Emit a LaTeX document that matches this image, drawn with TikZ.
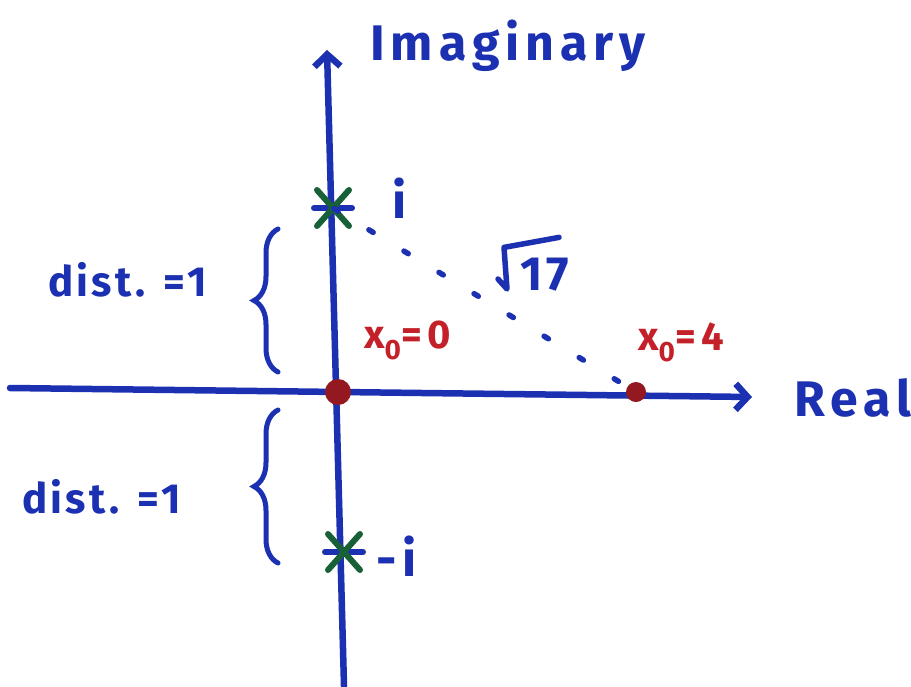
\documentclass[tikz,border=0pt]{standalone}
\usepackage{fontspec}
\setmainfont{Fira Sans}
\usetikzlibrary{arrows.meta,positioning,decorations.pathreplacing}
\definecolor{penblue}{RGB}{28,48,178}
\definecolor{penred}{RGB}{196,32,42}
\definecolor{pengreen}{RGB}{24,96,56}

%% asterisk mark for a root on the imaginary axis
\newcommand\rootmark[2]{%
  \coordinate (#1) at (#2);
  \draw[penblue, line width=6pt, line cap=round] ([xshift=-19pt]#1) -- ([xshift=19pt]#1);
  \draw[pengreen, line width=6pt, line cap=round]
    ([shift={(-16,-18)}]#1) -- ([shift={(16,18)}]#1)
    ([shift={(-16,18)}]#1) -- ([shift={(16,-18)}]#1);
}

\begin{document}
\begin{tikzpicture}[
  x=1pt, y=-1pt,
  node distance = 6pt and 10pt,
  axis/.style   = {draw=penblue, line width=6.5pt, line cap=round,
                   -{Straight Barb[length=12pt, width=26pt]}},
  bluelbl/.style = {text=penblue, inner sep=0pt,
                    font=\fontsize{50}{54}\selectfont\bfseries\addfontfeatures{LetterSpace=12}},
  distlbl/.style = {text=penblue, inner sep=0pt,
                    font=\fontsize{42}{46}\selectfont\bfseries\addfontfeatures{LetterSpace=8}},
  redlbl/.style  = {text=penred, inner sep=0pt,
                    font=\fontsize{40}{44}\selectfont\bfseries\addfontfeatures{LetterSpace=14}},
  zerodot/.style = {circle, fill=penred!75!black, inner sep=0pt},
  distbrace/.style = {draw=penblue, line width=5pt, line cap=round,
                      decorate, decoration={brace, amplitude=24pt}},
  dots/.style   = {draw=penblue, line width=5.5pt, line cap=round,
                   dash pattern=on 5pt off 36pt, dash phase=-42pt},
  radical/.style = {draw=penblue, line width=5.5pt, line cap=round, line join=round},
]
\useasboundingbox[fill=white] (0,0) rectangle (911,686);

%% ---- Axes ----
\coordinate (reL) at (10,388);
\coordinate (reR) at (752,397);
\coordinate (imB) at (344,686);
\coordinate (imT) at (327,50);
\draw[axis] (reL) -- (reR);
\draw[axis] (imB) -- (imT);

\node[bluelbl, anchor=south west] (imag) at (370,72) {Imaginary};
\node[bluelbl, anchor=west] (real) at (794,398) {Real};

%% ---- Roots at i and -i ----
\rootmark{ip}{333,208}
\rootmark{im}{344,552}
\node[bluelbl, anchor=west] (ilbl)  at (392,198) {i};
\node[bluelbl, anchor=west] (milbl) at (376,556) {-i};

%% ---- Zeros of the expansion points ----
\node[zerodot, minimum size=26pt] (zero) at (338,392) {};
\node[zerodot, minimum size=20pt] (four) at (636,392) {};
\node[redlbl, anchor=south west] (x0lbl) at (364,360) {x\textsubscript{0}=0};
\node[redlbl, anchor=south west] (x4lbl) at (638,362) {x\textsubscript{0}=4};

%% ---- Distance to the nearest root ----
\draw[dots] (ip) -- (four);
\node[text=penblue, inner sep=0pt,
      font=\fontsize{48}{52}\selectfont\bfseries\addfontfeatures{LetterSpace=8},
      anchor=south west] (sqrt) at (520,291) {17};
\draw[radical] ([shift={(-22,-12)}]sqrt.south west) -- ([shift={(-13,-2)}]sqrt.south west)
  -- ([shift={(-16,-10)}]sqrt.north west) -- ([shift={(-10,-20)}]sqrt.north east);

%% ---- Braces ----
\coordinate (bra1) at (278,372);
\coordinate (bra2) at (278,229);
\coordinate (bra3) at (278,563);
\coordinate (bra4) at (278,410);
\draw[distbrace] (bra1) -- (bra2);
\draw[distbrace] (bra3) -- (bra4);
\node[distlbl, anchor=west] (dist1) at (48,280) {dist. =1};
\node[distlbl, anchor=west] (dist2) at (22,497) {dist. =1};

\end{tikzpicture}
\end{document}
